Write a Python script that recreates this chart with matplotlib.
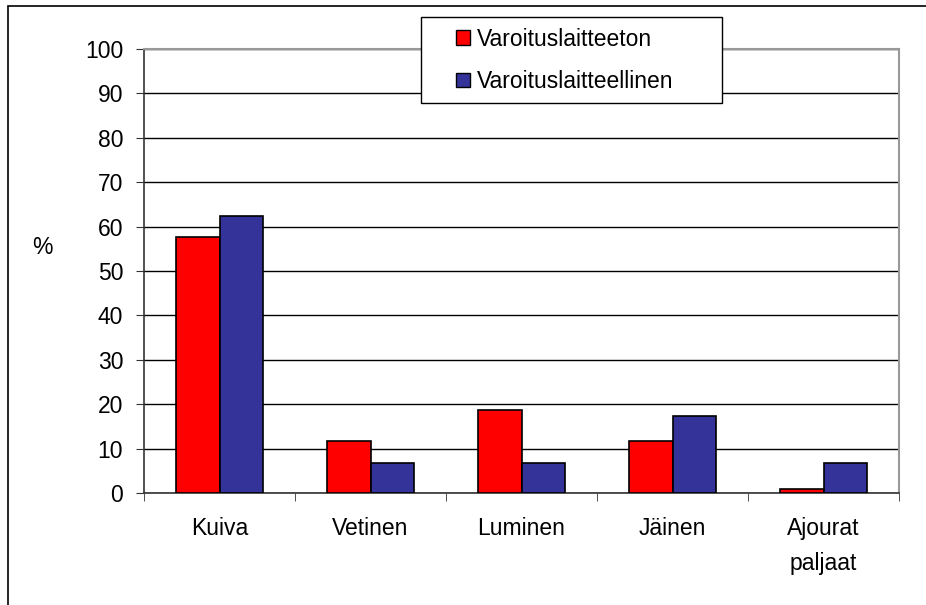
import numpy as np
import matplotlib.pyplot as plt
from matplotlib.patches import Rectangle

plt.rcParams['font.family'] = ['Liberation Sans', 'DejaVu Sans']

categories = ["Kuiva", "Vetinen", "Luminen", "Jäinen", "Ajourat\npaljaat"]
series_names = ["Varoituslaitteeton", "Varoituslaitteellinen"]
ilman = [57.7, 11.8, 18.6, 11.8, 0.9]
varoitus = [62.3, 6.8, 6.8, 17.3, 6.8]
yticks = [0, 10, 20, 30, 40, 50, 60, 70, 80, 90, 100]

fs = 16.5

fig = plt.figure(figsize=(9.26, 6.05), dpi=100)
# ulkokehys
fig.patches.append(Rectangle((8 / 926, -0.1), 1.2, 1.1 - 6 / 605, transform=fig.transFigure,
                             fill=False, edgecolor="black", linewidth=1.2))

ax = fig.add_axes([144 / 926, 112 / 605, 755 / 926, 444 / 605])
x = np.arange(len(categories))
w = 0.285
ax.bar(x - w / 2, ilman, w, color="#ff0000", edgecolor="black", linewidth=1.2,
       label=series_names[0], zorder=3)
ax.bar(x + w / 2, varoitus, w, color="#333399", edgecolor="black", linewidth=1.2,
       label=series_names[1], zorder=3)

ax.set_xlim(-0.5, len(categories) - 0.5)
ax.set_ylim(0, 100)
ax.set_yticks(yticks)
ax.yaxis.grid(True, color="black", linewidth=1.0, zorder=0)
ax.set_xticks(x)
ax.set_xticklabels(categories, fontsize=fs, linespacing=1.7)
ax.set_xticks(np.arange(len(categories) + 1) - 0.5, minor=True)
ax.tick_params(axis="x", which="major", length=0, pad=17)
ax.tick_params(axis="x", which="minor", length=6, direction="out", color="#333333")
ax.tick_params(axis="y", length=6, direction="out", labelsize=fs, pad=9, color="#333333")

for side in ["top", "right"]:
    ax.spines[side].set_color("#999999")
    ax.spines[side].set_linewidth(1.5)
for side in ["left", "bottom"]:
    ax.spines[side].set_color("#333333")
    ax.spines[side].set_linewidth(1.2)
ax.set_axisbelow(True)

fig.text(42 / 926, 1 - 247 / 605, "%", fontsize=fs, ha="center", va="center")

# selitteen kehys piirretään erikseen
ax.add_patch(Rectangle(((421 - 144) / 755, 1 - 54 / 444), 301 / 755, 86 / 444,
                       transform=ax.transAxes, facecolor="white", edgecolor="black",
                       linewidth=1.0, clip_on=False, zorder=4))
leg = ax.legend(loc="center left", bbox_to_anchor=((456 - 144) / 755, 1 - 11.5 / 444),
                fontsize=fs, frameon=False, handlelength=0.62, handleheight=0.62,
                handletextpad=0.3, labelspacing=0.83, borderpad=0, borderaxespad=0)
leg.set_zorder(5)
for h in leg.legend_handles:
    h.set_linewidth(1.0)

fig.savefig("out.png", dpi=100)
